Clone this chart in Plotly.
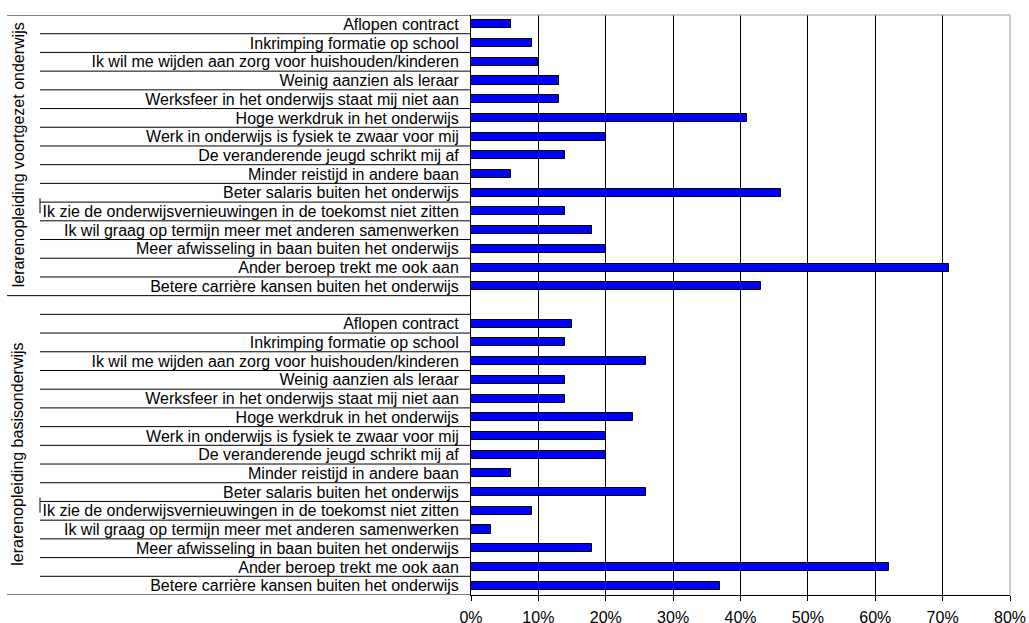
import plotly.graph_objects as go

# ---- data ----
categories = [
    "Aflopen contract",
    "Inkrimping formatie op school",
    "Ik wil me wijden aan zorg voor huishouden/kinderen",
    "Weinig aanzien als leraar",
    "Werksfeer in het onderwijs staat mij niet aan",
    "Hoge werkdruk in het onderwijs",
    "Werk in onderwijs is fysiek te zwaar voor mij",
    "De veranderende jeugd schrikt mij af",
    "Minder reistijd in andere baan",
    "Beter salaris buiten het onderwijs",
    "Ik zie de onderwijsvernieuwingen in de toekomst niet zitten",
    "Ik wil graag op termijn meer met anderen samenwerken",
    "Meer afwisseling in baan buiten het onderwijs",
    "Ander beroep trekt me ook aan",
    "Betere carrière kansen buiten het onderwijs",
]
group_names = ["lerarenopleiding voortgezet onderwijs", "lerarenopleiding basisonderwijs"]
values_vo = [6, 9, 10, 13, 13, 41, 20, 14, 6, 46, 14, 18, 20, 71, 43]
values_bo = [15, 14, 26, 14, 14, 24, 20, 20, 6, 26, 9, 3, 18, 62, 37]
x_ticks = [0, 10, 20, 30, 40, 50, 60, 70, 80]
x_tick_labels = ["0%", "10%", "20%", "30%", "40%", "50%", "60%", "70%", "80%"]

# ---- layout geometry ----
W, H = 1029, 623
ML, MR, MT, MB = 471, 19, 15, 28
PW = W - ML - MR
n = len(categories)
FONT = "Liberation Sans, Arial, sans-serif"

def px_to_paper(px):
    return (px - ML) / PW

# row positions: group 1 rows 0..n-1, gap row n, group 2 rows n+1..2n
pos_vo = list(range(n))
pos_bo = [n + 1 + i for i in range(n)]
total_rows = 2 * n + 1

fig = go.Figure()
for pos, vals in ((pos_vo, values_vo), (pos_bo, values_bo)):
    fig.add_trace(go.Bar(
        x=vals, y=pos, orientation="h", width=0.43,
        marker=dict(color="#0000FF", line=dict(color="#000000", width=1)),
        showlegend=False, hoverinfo="x+y",
    ))

shapes = []
x_inner = px_to_paper(40)
x_outer = px_to_paper(7)
# row separators inside groups
for start in (0, n + 1):
    for i in range(n - 1):
        y = start + i + 0.5
        shapes.append(dict(type="line", xref="paper", yref="y", x0=x_inner, x1=0,
                           y0=y, y1=y, line=dict(color="#000", width=1)))
# group boundaries
for y, x0 in ((-0.5, x_outer), (n - 0.5, x_outer), (n + 0.5, x_inner), (total_rows - 0.5, x_outer)):
    shapes.append(dict(type="line", xref="paper", yref="y", x0=x0, x1=0,
                       y0=y, y1=y, line=dict(color="#000", width=1)))
# small artifacts (vertical ticks at left of longest label)
for start in (0, n + 1):
    shapes.append(dict(type="line", xref="paper", yref="y", x0=x_inner, x1=x_inner,
                       y0=start + 9.3, y1=start + 10.1, line=dict(color="#000", width=1)))
# gray top and right border
shapes.append(dict(type="line", xref="paper", yref="paper", x0=0, x1=1, y0=1, y1=1,
                   line=dict(color="#9a9a9a", width=1)))
shapes.append(dict(type="line", xref="paper", yref="paper", x0=1, x1=1, y0=0, y1=1,
                   line=dict(color="#9a9a9a", width=1)))

annotations = []
for name, center in ((group_names[0], (n - 1) / 2), (group_names[1], n + 1 + (n - 1) / 2)):
    annotations.append(dict(text=name, xref="paper", yref="y", x=px_to_paper(18), y=center,
                            xanchor="center", yanchor="middle", textangle=-90, showarrow=False,
                            font=dict(family=FONT, size=16, color="#000")))

fig.update_layout(
    width=W, height=H,
    margin=dict(l=ML, r=MR, t=MT, b=MB, pad=0, autoexpand=False),
    paper_bgcolor="white", plot_bgcolor="white",
    font=dict(family=FONT, size=16, color="#000"),
    bargap=0,
    shapes=shapes, annotations=annotations,
    xaxis=dict(range=[0, 80], tickmode="array", tickvals=x_ticks, ticktext=x_tick_labels,
               showgrid=True, gridcolor="#000", gridwidth=1,
               showline=True, linecolor="#000", linewidth=1,
               ticks="outside", ticklen=5, tickcolor="#000", tickwidth=1,
               ticklabelstandoff=3, zeroline=False, automargin=False,
               tickfont=dict(family=FONT, size=16, color="#000")),
    yaxis=dict(range=[total_rows - 0.5, -0.5], tickvals=pos_vo + pos_bo,
               ticktext=categories + categories, ticks="",
               showgrid=False, zeroline=False, automargin=False,
               showline=True, linecolor="#000", linewidth=1,
               ticklabelstandoff=8,
               tickfont=dict(family=FONT, size=16, color="#000")),
)

fig.write_html("out.html")
